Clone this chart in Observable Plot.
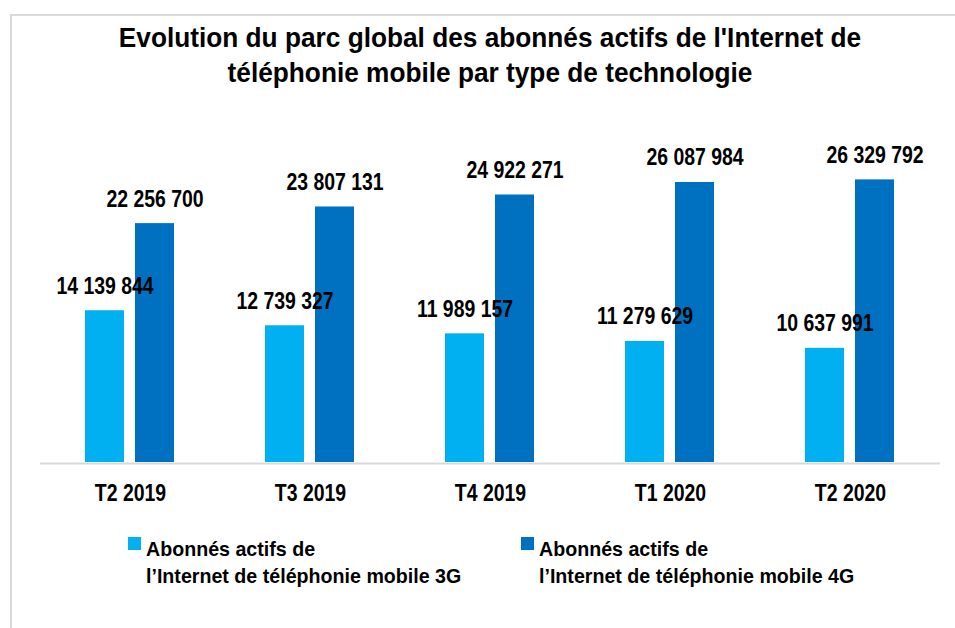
<!DOCTYPE html>
<html>
<head>
<meta charset="utf-8">
<script src="https://cdn.jsdelivr.net/npm/d3@7"></script>
<script src="https://cdn.jsdelivr.net/npm/@observablehq/plot@0.6"></script>
<style>
  html, body { margin: 0; padding: 0; background: #fff; overflow: hidden; width: 955px; height: 628px; }
  body { position: relative; font-family: "Liberation Sans", Arial, sans-serif; font-weight: bold; color: #000; }
  #frame { position: absolute; left: 10px; top: 14px; width: 1000px; height: 700px; border-top: 2px solid #d9d9d9; border-left: 2px solid #d9d9d9; }
  #title { position: absolute; left: 25px; top: 20px; width: 930px; text-align: center; font-size: 28px; line-height: 35px; transform: scaleX(0.937); transform-origin: 465px 0; }
  #chart { position: absolute; left: 0; top: 0; }
  .leg { position: absolute; font-size: 21px; line-height: 27px; white-space: nowrap; transform: scaleX(0.935); transform-origin: 0 0; }
  .sw { position: absolute; width: 13px; height: 13px; }
</style>
</head>
<body>
<div id="frame"></div>
<div id="chart"></div>
<div id="title">Evolution du parc global des abonnés actifs de l'Internet de<br>téléphonie mobile par type de technologie</div>
<div id="legend"></div>
<script>
const quarters = ["T2 2019", "T3 2019", "T4 2019", "T1 2020", "T2 2020"];
const series = ["3G", "4G"];
const values3G = [14139844, 12739327, 11989157, 11279629, 10637991];
const values4G = [22256700, 23807131, 24922271, 26087984, 26329792];
const seriesLabels = [
  ["Abonnés actifs de", "l’Internet de téléphonie mobile 3G"],
  ["Abonnés actifs de", "l’Internet de téléphonie mobile 4G"]
];
const colors = ["#00B0F0", "#0070C0"];

const data = [];
quarters.forEach((q, i) => {
  data.push({quarter: q, series: "3G", value: values3G[i]});
  data.push({quarter: q, series: "4G", value: values4G[i]});
});

const fmt = d3.formatLocale({decimal: ",", thousands: " ", grouping: [3], currency: ["", ""]}).format(",");
const FONT = '"Liberation Sans", Arial, sans-serif';

const chart = Plot.plot({
  width: 955,
  height: 520,
  marginLeft: 39,
  marginRight: 14,
  marginTop: 140,
  marginBottom: 58,
  style: {fontFamily: FONT, fontWeight: "bold", background: "transparent", overflow: "visible"},
  fx: {domain: quarters, padding: 0, label: null, axis: null},
  x: {domain: series, axis: null, paddingInner: 0.2157, paddingOuter: 0.877},
  y: {domain: [0, 30000000], axis: null},
  color: {domain: series, range: colors},
  marks: [
    Plot.barY(data, {fx: "quarter", x: "series", y: "value", fill: "series"}),
    Plot.ruleY([0], {stroke: "#d9d9d9", strokeWidth: 2, dy: 1}),
    Plot.text(data, {fx: "quarter", x: "series", y: "value", text: d => fmt(d.value), lineAnchor: "bottom", dy: -17, fontSize: 23, fill: "#000", fontWeight: "bold"}),
    Plot.axisFx({anchor: "bottom", tickSize: 0, tickPadding: 22, fontSize: 23, label: null, fill: "#000"})
  ]
});
// horizontally condense SVG texts to match the reference's narrow glyphs
chart.querySelectorAll("text").forEach(t => {
  t.setAttribute("transform", ((t.getAttribute("transform") || "") + " scale(0.845,1)").trim());
});
document.getElementById("chart").appendChild(chart);

const legend = document.getElementById("legend");
const legPos = [[128, 146], [521, 539]];
series.forEach((s, i) => {
  const sw = document.createElement("div");
  sw.className = "sw";
  sw.style.left = legPos[i][0] + "px";
  sw.style.top = "537px";
  sw.style.background = colors[i];
  legend.appendChild(sw);
  const t = document.createElement("div");
  t.className = "leg";
  t.style.left = legPos[i][1] + "px";
  t.style.top = "535px";
  t.innerHTML = seriesLabels[i].join("<br>");
  legend.appendChild(t);
});
</script>
</body>
</html>
